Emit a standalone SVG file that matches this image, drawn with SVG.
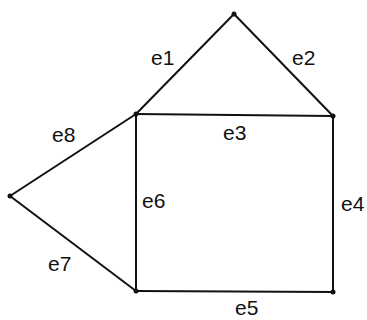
<svg xmlns="http://www.w3.org/2000/svg" width="367" height="320" viewBox="0 0 367 320">
<style>
.e{stroke:#111;stroke-width:2;fill:none;stroke-linecap:round}
.v{fill:#111}
.t{font-family:"Liberation Sans",Arial,sans-serif;font-size:21px;fill:#111}
</style>
<rect width="367" height="320" fill="#fff"/>
<g id="connectors">
<line class="e" x1="136" y1="114" x2="234" y2="14"/>
<line class="e" x1="234" y1="14" x2="333" y2="116"/>
<line class="e" x1="136" y1="114" x2="333" y2="116"/>
<line class="e" x1="333" y1="116" x2="333" y2="292"/>
<line class="e" x1="136" y1="291" x2="333" y2="292"/>
<line class="e" x1="136" y1="114" x2="136" y2="291"/>
<line class="e" x1="10" y1="196" x2="136" y2="291"/>
<line class="e" x1="10" y1="196" x2="136" y2="114"/>
</g>
<g id="v1"><circle class="v" cx="234" cy="14" r="2.5"/></g>
<g id="v2"><circle class="v" cx="136" cy="114" r="2.5"/></g>
<g id="v3"><circle class="v" cx="333" cy="116" r="2.5"/></g>
<g id="v4"><circle class="v" cx="10" cy="196" r="2.5"/></g>
<g id="v5"><circle class="v" cx="136" cy="291" r="2.5"/></g>
<g id="v6"><circle class="v" cx="333" cy="292" r="2.5"/></g>
<g id="labels">
<text class="t" x="151" y="65">e1</text>
<text class="t" x="292" y="65">e2</text>
<text class="t" x="223" y="140">e3</text>
<text class="t" x="341" y="211">e4</text>
<text class="t" x="235" y="315">e5</text>
<text class="t" x="142" y="208">e6</text>
<text class="t" x="48" y="271">e7</text>
<text class="t" x="52" y="142">e8</text>
</g>
</svg>
